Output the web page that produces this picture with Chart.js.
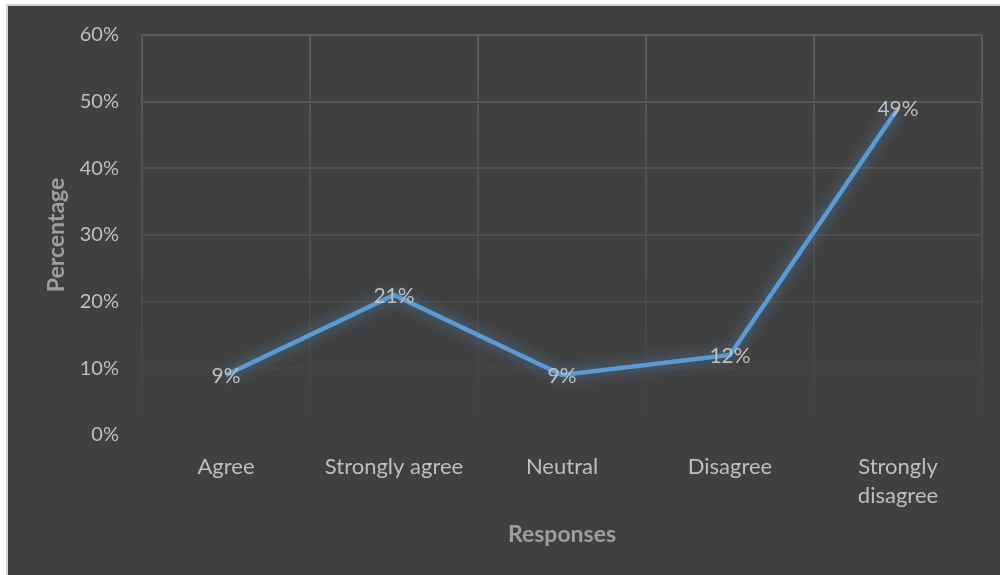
<!DOCTYPE html>
<html>
<head>
  <title>Responses</title>
  <style>
    body { margin: 0; background: #ffffff; overflow: hidden; }
    #frame {
      position: absolute; left: 6px; top: 4px; width: 1000px; height: 580px;
      border-left: 2px solid #d4d4d4; border-top: 2px solid #d4d4d4;
      background: #404040;
    }
    #chart-container { position: absolute; left: 8px; top: 6px; width: 992px; height: 569px; }
  </style>
</head>
<body>
  <div id="frame"></div>
  <div id="chart-container">
    <canvas id="line-chart"></canvas>
  </div>

  <script src="https://cdn.jsdelivr.net/npm/chart.js"></script>
  <script>
    // Antwoordcategorieën en percentages
    const categories = ['Agree', 'Strongly agree', 'Neutral', 'Disagree', ['Strongly', 'disagree']];
    const percentages = [9, 21, 9, 12, 49];
    const yTicks = [0, 10, 20, 30, 40, 50, 60];

    const FONT = 'Lato, "Open Sans", sans-serif';

    // Gloed rond de lijn
    const glowPlugin = {
      id: 'glow',
      beforeDatasetsDraw(chart) {
        const ctx = chart.ctx;
        ctx.save();
        ctx.shadowColor = 'rgba(91, 155, 213, 0.75)';
        ctx.shadowBlur = 14;
      },
      afterDatasetsDraw(chart) {
        chart.ctx.restore();
      }
    };

    // Waardelabels gecentreerd op elk punt
    const labelPlugin = {
      id: 'pointLabels',
      afterDatasetsDraw(chart) {
        const ctx = chart.ctx;
        const meta = chart.getDatasetMeta(0);
        ctx.save();
        ctx.font = '21px ' + FONT;
        ctx.fillStyle = '#bfbfbf';
        ctx.textAlign = 'center';
        ctx.textBaseline = 'middle';
        meta.data.forEach((pt, i) => {
          ctx.fillText(percentages[i] + '%', pt.x, pt.y + 1);
        });
        ctx.restore();
      }
    };

    // Rasterlijnen vervagen naar onderen
    function gridShade(v) {
      const g = Math.round(64 + 28 * v / 60);
      return 'rgb(' + g + ',' + g + ',' + g + ')';
    }

    function verticalGrid(context) {
      const area = context.chart.chartArea;
      if (!area) return '#505050';
      const grad = context.chart.ctx.createLinearGradient(0, area.top, 0, area.bottom);
      grad.addColorStop(0, gridShade(60));
      grad.addColorStop(1, gridShade(0));
      return grad;
    }

    const ctx = document.getElementById('line-chart').getContext('2d');
    new Chart(ctx, {
      type: 'line',
      data: {
        labels: categories,
        datasets: [{
          label: 'Percentage',
          data: percentages,
          borderColor: '#5b9bd5',
          borderWidth: 4.5,
          pointRadius: 0,
          tension: 0,
          fill: false
        }]
      },
      options: {
        responsive: true,
        maintainAspectRatio: false,
        animation: false,
        layout: { padding: { top: 29, right: 18, left: 0, bottom: 0 } },
        plugins: {
          legend: { display: false },
          tooltip: { enabled: false }
        },
        scales: {
          x: {
            offset: true,
            grid: { offset: true, color: verticalGrid, lineWidth: 2, drawTicks: false },
            border: { display: false },
            ticks: {
              color: '#bfbfbf',
              font: { family: FONT, size: 22, lineHeight: 1.3 },
              padding: 18,
              maxRotation: 0
            },
            title: {
              display: true,
              text: 'Responses',
              color: '#9e9e9e',
              font: { family: FONT, size: 23, weight: 'bold' },
              padding: { top: 0, bottom: 27 }
            },
            afterFit(scale) {
              scale.height = 140;
              scale.paddingLeft = 0;
              scale.paddingRight = 0;
            }
          },
          y: {
            min: 0,
            max: 60,
            afterBuildTicks(scale) { scale.ticks = yTicks.map(v => ({ value: v })); },
            grid: {
              color: c => c.tick.value === 0 ? 'rgba(0,0,0,0)' : gridShade(c.tick.value),
              lineWidth: 2,
              drawTicks: false
            },
            border: { display: false },
            ticks: {
              color: '#bfbfbf',
              font: { family: FONT, size: 20 },
              padding: 23,
              callback: v => v + '%'
            },
            title: {
              display: true,
              text: 'Percentage',
              color: '#9e9e9e',
              font: { family: FONT, size: 23, weight: 'bold' },
              padding: { top: 35, bottom: 0 }
            },
            afterFit(scale) {
              scale.width = 134;
              scale.paddingTop = 0;
              scale.paddingBottom = 0;
            }
          }
        }
      },
      plugins: [glowPlugin, labelPlugin]
    });
  </script>
</body>
</html>
